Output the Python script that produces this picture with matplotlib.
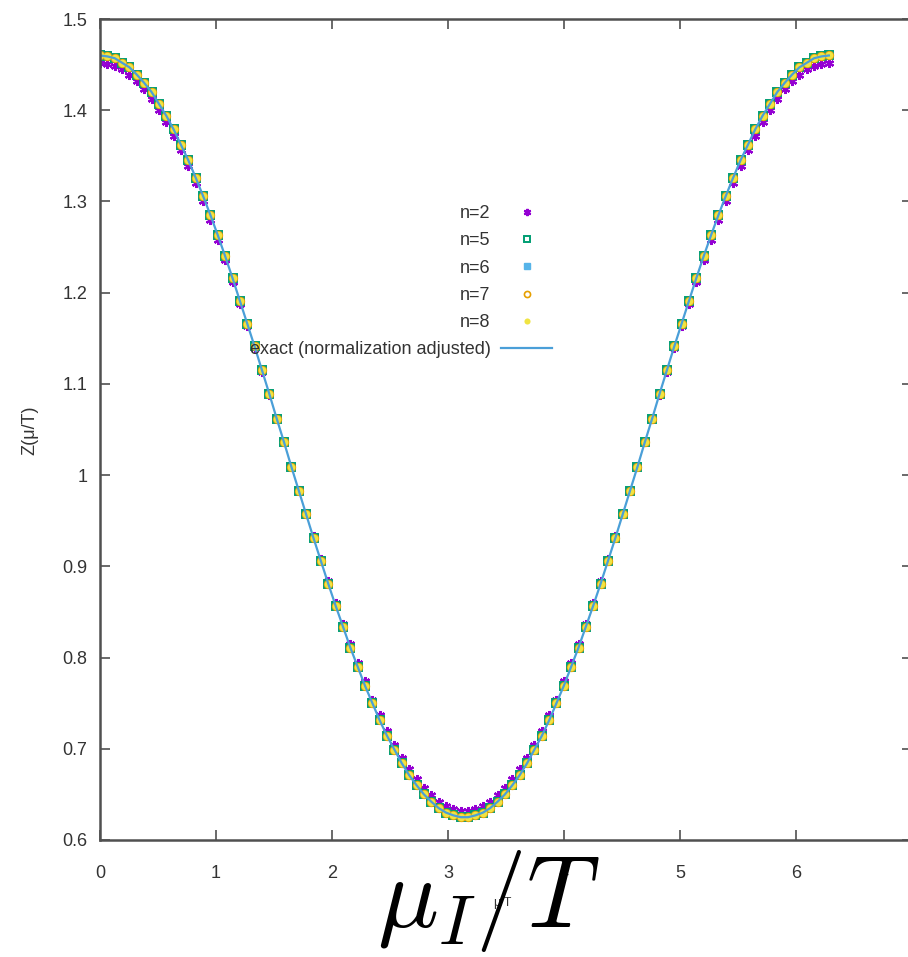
import numpy as np
import matplotlib
matplotlib.use("Agg")
import matplotlib.pyplot as plt

plt.rcParams['font.family'] = ['Liberation Sans Narrow', 'Liberation Sans', 'DejaVu Sans']
plt.rcParams['mathtext.fontset'] = 'cm'

# ── data ─────────────────────────────────────────────────────────────────────
mu_over_T = np.linspace(0, 2 * np.pi, 100)

z_n2 = [1.452, 1.451, 1.449, 1.445, 1.439, 1.432, 1.423, 1.412, 1.400, 1.387,
        1.372, 1.356, 1.339, 1.320, 1.301, 1.280, 1.258, 1.236, 1.212, 1.188,
        1.164, 1.139, 1.113, 1.088, 1.062, 1.036, 1.010, 0.984, 0.958, 0.933,
        0.908, 0.884, 0.860, 0.837, 0.815, 0.794, 0.774, 0.754, 0.737, 0.720,
        0.704, 0.690, 0.678, 0.667, 0.657, 0.649, 0.642, 0.637, 0.634, 0.632,
        0.632, 0.634, 0.637, 0.642, 0.649, 0.657, 0.667, 0.678, 0.690, 0.704,
        0.720, 0.737, 0.754, 0.774, 0.794, 0.815, 0.837, 0.860, 0.884, 0.908,
        0.933, 0.958, 0.984, 1.010, 1.036, 1.062, 1.088, 1.113, 1.139, 1.164,
        1.188, 1.212, 1.236, 1.258, 1.280, 1.301, 1.320, 1.339, 1.356, 1.372,
        1.387, 1.400, 1.412, 1.423, 1.432, 1.439, 1.445, 1.449, 1.451, 1.452]

z_hi = [1.460, 1.459, 1.457, 1.452, 1.447, 1.439, 1.430, 1.420, 1.407, 1.394,
        1.379, 1.362, 1.345, 1.326, 1.306, 1.285, 1.263, 1.240, 1.216, 1.191,
        1.166, 1.141, 1.115, 1.089, 1.062, 1.036, 1.009, 0.983, 0.957, 0.931,
        0.906, 0.881, 0.857, 0.834, 0.811, 0.790, 0.769, 0.750, 0.731, 0.714,
        0.699, 0.684, 0.671, 0.660, 0.650, 0.642, 0.635, 0.630, 0.627, 0.625,
        0.625, 0.627, 0.630, 0.635, 0.642, 0.650, 0.660, 0.671, 0.684, 0.699,
        0.714, 0.731, 0.750, 0.769, 0.790, 0.811, 0.834, 0.857, 0.881, 0.906,
        0.931, 0.957, 0.983, 1.009, 1.036, 1.062, 1.089, 1.115, 1.141, 1.166,
        1.191, 1.216, 1.240, 1.263, 1.285, 1.306, 1.326, 1.345, 1.362, 1.379,
        1.394, 1.407, 1.420, 1.430, 1.439, 1.447, 1.452, 1.457, 1.459, 1.460]

# n=5..8 coincide with each other in the picture
z_n5 = z_hi
z_n6 = z_hi
z_n7 = z_hi
z_n8 = z_hi
z_exact = z_hi

y_ticks = [0.6, 0.7, 0.8, 0.9, 1.0, 1.1, 1.2, 1.3, 1.4, 1.5]
y_tick_labels = ["0.6", "0.7", "0.8", "0.9", "1", "1.1", "1.2", "1.3", "1.4", "1.5"]
x_ticks = [0, 1, 2, 3, 4, 5, 6, 7]
x_tick_labels = ["0", "1", "2", "3", "4", "5", "6", ""]  # "7" falls off the crop

# ── figure ───────────────────────────────────────────────────────────────────
fig = plt.figure(figsize=(9.08, 9.57), dpi=100)
ax = fig.add_axes([100 / 908, 1 - 840 / 957, 812 / 908, 821 / 957])

ms = 5.5
ax.plot(mu_over_T, z_n2, ls="none", marker=(6, 2, 0), ms=ms + 1, mew=1.6,
        color="#9400d3", label="n=2")
ax.plot(mu_over_T, z_n5, ls="none", marker="s", ms=ms, mew=1.4, mfc="none",
        color="#009e73", label="n=5")
ax.plot(mu_over_T, z_n6, ls="none", marker="s", ms=ms - 0.5,
        color="#56b4e9", label="n=6")
ax.plot(mu_over_T, z_n7, ls="none", marker="o", ms=ms, mew=1.2, mfc="none",
        color="#e69f00", label="n=7")
ax.plot(mu_over_T, z_n8, ls="none", marker="o", ms=ms, mew=0,
        color="#f0e442", label="n=8")
ax.plot(mu_over_T, z_exact, color="#4a9fd8", lw=1.6,
        label="exact (normalization adjusted)")

ax.set_xlim(0, 7)
ax.set_ylim(0.6, 1.5)
ax.set_xticks(x_ticks)
ax.set_xticklabels(x_tick_labels)
ax.set_yticks(y_ticks)
ax.set_yticklabels(y_tick_labels)

for sp in ax.spines.values():
    sp.set_color("#505050")
    sp.set_linewidth(1.8)
ax.tick_params(direction="in", length=7, width=1.2, color="#505050",
               top=True, right=True, labelsize=13, labelcolor="#333333")
ax.tick_params(axis="x", pad=18)
ax.tick_params(axis="y", pad=9)

ax.set_ylabel("Z(μ/T)", fontsize=13, color="#333333")
ax.yaxis.set_label_coords(-0.076, 0.499)

# small original axis label and the big pasted one
ax.text((502 - 100) / 812, -(903 - 840) / 821, "μ/T", transform=ax.transAxes,
        fontsize=9, ha="center", va="center", color="#333333")
ax.text((488 - 100) / 812, -(927 - 840) / 821, r"$\mu_I/T$", transform=ax.transAxes,
        fontsize=73, ha="center", va="baseline", color="black")

leg = ax.legend(loc="upper right", bbox_to_anchor=(552 / 908, 1 - 205 / 957),
                bbox_transform=fig.transFigure, frameon=False, markerfirst=False,
                fontsize=13, handlelength=2.8, handletextpad=0.6,
                labelspacing=0.57, borderpad=0, borderaxespad=0, markerscale=0.8)
for t in leg.get_texts():
    t.set_color("#333333")

fig.savefig("out.png", dpi=100)
